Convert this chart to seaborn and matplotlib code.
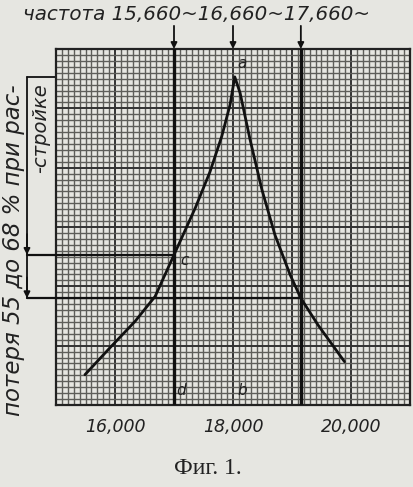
import numpy as np
import pandas as pd
import matplotlib
matplotlib.use("Agg")
import matplotlib.pyplot as plt
import seaborn as sns

# ---- data ----
curve_x = [15490, 15910, 16340, 16680, 17000, 17360, 17610, 17810, 17950, 18030,
           18120, 18290, 18490, 18710, 18970, 19150, 19440, 19890]
curve_y = [5.1, 9.6, 14.1, 18.3, 25.3, 33.2, 39.3, 45.3, 50.6, 55.3,
           52.6, 44.7, 36.3, 28.7, 21.9, 18.0, 13.5, 7.3]
tick_vals = [16000, 18000, 20000]
tick_labels = ["16,000", "18,000", "20,000"]
vlines_x = [17000, 19150]          # thick verticals
arrow_x = [17000, 18000, 19150]    # arrows from the frequency heading
level_c = 25.3                     # loss level at c
level_r = 18.0                     # loss level at right point
level_a = 55.3                     # peak a
point_labels = {"a": (18160, 57.6), "c": (17170, 24.3), "d": (17120, 2.4), "b": (18150, 2.4)}
top_text = "частота 15,660~16,660~17,660~"
side_text1 = "потеря 55 до 68 % при рас-"
side_text2 = "-стройке"
caption = "Фиг. 1."

sns.set_style("white")
plt.rcParams['font.family'] = ['DejaVu Sans']

W, H = 414, 487
fig = plt.figure(figsize=(W / 100, H / 100), dpi=100)
fig.patch.set_facecolor("#e6e6e1")
ax = fig.add_axes([56 / W, (H - 405) / H, 354 / W, 356 / H])
ax.set_facecolor("#e6e6e1")

ax.set_xlim(15000, 21000)
ax.set_ylim(0, 60)

# graph paper grid
for xv in np.arange(15000, 21001, 100):
    major = (xv % 1000 == 0)
    ax.axvline(xv, color="#333333" if major else "#5e5e5a",
               lw=1.4 if major else 1.0, zorder=1)
for yv in np.arange(0, 61, 1):
    major = (yv % 10 == 0)
    ax.axhline(yv, color="#333333" if major else "#5e5e5a",
               lw=1.4 if major else 1.0, zorder=1)

df = pd.DataFrame({"x": curve_x, "y": curve_y})
sns.lineplot(data=df, x="x", y="y", ax=ax, color="#111111", lw=2.0,
             sort=False, zorder=5)

for xv in vlines_x:
    ax.axvline(xv, color="#111111", lw=2.4, zorder=4)

ytr = ax.get_yaxis_transform()
bx = -0.082
ax.plot([bx, (vlines_x[0] - 15000) / 6000], [level_c, level_c], transform=ytr,
        color="#111111", lw=1.6, clip_on=False, zorder=4)
ax.plot([bx, (vlines_x[1] - 15000) / 6000], [level_r, level_r], transform=ytr,
        color="#111111", lw=1.6, clip_on=False, zorder=4)
ax.plot([bx, 0], [level_a, level_a], transform=ytr,
        color="#111111", lw=1.3, clip_on=False)
ax.plot([bx, bx], [level_a, level_r], transform=ytr,
        color="#111111", lw=1.3, clip_on=False)
for lv in (level_c, level_r):
    ax.annotate("", xy=(bx, lv), xycoords=ytr,
                xytext=(bx, lv + 3.5), textcoords=ytr,
                arrowprops=dict(arrowstyle="-|>", color="#111111", lw=1.3,
                                mutation_scale=9, shrinkA=0, shrinkB=0))

xtr = ax.get_xaxis_transform()
for xv in arrow_x:
    ax.annotate("", xy=(xv, 1.0), xycoords=xtr,
                xytext=(xv, 1.065), textcoords=xtr,
                arrowprops=dict(arrowstyle="-|>", color="#111111", lw=1.3,
                                mutation_scale=9, shrinkA=0, shrinkB=0))

for lab, (px, py) in point_labels.items():
    ax.text(px, py, lab, fontsize=11, style="italic", color="#222222",
            ha="center", va="center", zorder=6)

ax.set_xticks(tick_vals)
ax.set_xticklabels(tick_labels, fontsize=12.5, style="italic", color="#222222")
ax.set_yticks([])
ax.tick_params(axis="x", length=0, pad=9)
ax.set_xlabel("")
ax.set_ylabel("")
for s in ax.spines.values():
    s.set_color("#222222")
    s.set_linewidth(1.6)

fig.text(197 / W, 1 - 14 / H, top_text, fontsize=14.3, style="italic",
         color="#222222", ha="center", va="center")
fig.text(14 / W, 1 - 250 / H, side_text1, fontsize=16.5, style="italic",
         color="#222222", ha="center", va="center", rotation=90)
fig.text(41 / W, 1 - 128 / H, side_text2, fontsize=14, style="italic",
         color="#222222", ha="center", va="center", rotation=90)
fig.text(208 / W, 1 - 468 / H, caption, fontsize=17,
         family=["Liberation Serif", "DejaVu Serif"], color="#222222",
         ha="center", va="center")

fig.savefig("out.png", dpi=100, facecolor=fig.get_facecolor())
